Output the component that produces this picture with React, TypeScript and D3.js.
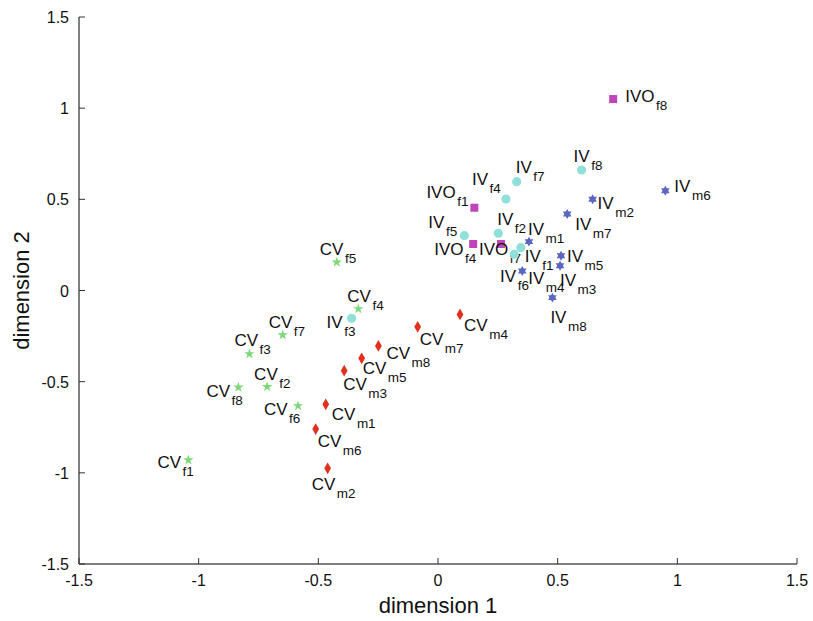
import React from "react";
import * as d3 from "d3";

// ---- data ----
const ivoSubs = ["f1", "f4", "f7", "f8"];
const ivoX = [0.152, 0.147, 0.263, 0.732];
const ivoY = [0.454, 0.255, 0.255, 1.05];
const ivoLabelOff = [[-48, -10], [-39, 11], [-22, 11], [12, 3]];

const ivfSubs = ["f1", "f2", "f3", "f4", "f5", "f6", "f7", "f8"];
const ivfX = [0.346, 0.252, -0.361, 0.284, 0.11, 0.318, 0.329, 0.6];
const ivfY = [0.235, 0.314, -0.152, 0.502, 0.301, 0.199, 0.597, 0.661];
const ivfLabelOff = [[4, 14], [-1, -8], [-25, 10], [-34, -14], [-36, -8], [-14, 28], [-1, -9], [-8, -8]];

const ivmSubs = ["m1", "m2", "m3", "m4", "m5", "m6", "m7", "m8"];
const ivmX = [0.38, 0.646, 0.51, 0.352, 0.514, 0.95, 0.54, 0.478];
const ivmY = [0.268, 0.5, 0.136, 0.107, 0.191, 0.547, 0.42, -0.039];
const ivmLabelOff = [[-1, -7], [5, 10], [0, 20], [6, 13], [6, 6], [9, 1], [8, 16], [-2, 25]];

const cvfSubs = ["f1", "f2", "f3", "f4", "f5", "f6", "f7", "f8"];
const cvfX = [-1.043, -0.714, -0.788, -0.333, -0.423, -0.585, -0.649, -0.834];
const cvfY = [-0.93, -0.528, -0.348, -0.101, 0.155, -0.633, -0.244, -0.531];
const cvfLabelOff = [[-31, 8], [-13, -7], [-15, -8], [-11, -7], [-17, -7], [-34, 9], [-14, -7], [-32, 10]];

const cvmSubs = ["m1", "m2", "m3", "m4", "m5", "m6", "m7", "m8"];
const cvmX = [-0.469, -0.461, -0.392, 0.092, -0.319, -0.511, -0.085, -0.249];
const cvmY = [-0.624, -0.975, -0.44, -0.131, -0.372, -0.76, -0.199, -0.304];
const cvmLabelOff = [[6, 16], [-16, 22], [-1, 19], [4, 17], [1, 16], [2, 18], [2, 18], [8, 13]];

const tickValues = [-1.5, -1, -0.5, 0, 0.5, 1, 1.5];
const tickLabels = ["-1.5", "-1", "-0.5", "0", "0.5", "1", "1.5"];

// ---- layout ----
const W = 813, H = 621;
const x = d3.scaleLinear().domain([-1.5, 1.5]).range([79, 797]);
const y = d3.scaleLinear().domain([-1.5, 1.5]).range([564, 17]);

const FONT = "'Liberation Sans', Arial, Helvetica, sans-serif";

const hexagram = {
  draw(ctx: any, size: number) {
    const R = Math.sqrt(size) * 0.62;
    const r = R / Math.sqrt(3);
    for (let i = 0; i < 12; i++) {
      const a = (Math.PI / 6) * i - Math.PI / 2;
      const rad = i % 2 === 0 ? R : r;
      const px = rad * Math.cos(a), py = rad * Math.sin(a);
      if (i === 0) ctx.moveTo(px, py); else ctx.lineTo(px, py);
    }
    ctx.closePath();
  },
};

const groups = [
  { prefix: "IVO", subs: ivoSubs, xs: ivoX, ys: ivoY, off: ivoLabelOff, type: d3.symbolSquare, size: 64, color: "#bf45b8" },
  { prefix: "IV", subs: ivfSubs, xs: ivfX, ys: ivfY, off: ivfLabelOff, type: d3.symbolCircle, size: 66, color: "#8fe0d9" },
  { prefix: "IV", subs: ivmSubs, xs: ivmX, ys: ivmY, off: ivmLabelOff, type: hexagram, size: 64, color: "#5a66c2" },
  { prefix: "CV", subs: cvfSubs, xs: cvfX, ys: cvfY, off: cvfLabelOff, type: d3.symbolStar, size: 34, color: "#7dd87a" },
  { prefix: "CV", subs: cvmSubs, xs: cvmX, ys: cvmY, off: cvmLabelOff, type: d3.symbolDiamond, size: 40, color: "#e2301f" },
];

export default function App() {
  return (
    <svg width={W} height={H} style={{ position: "absolute", left: 0, top: 0, background: "#fff" }} fontFamily={FONT}>
      <rect width={W} height={H} fill="#fff" />
      {/* axes */}
      <line x1={x(-1.5)} x2={x(-1.5)} y1={y(1.5)} y2={y(-1.5)} stroke="#000" strokeWidth={1} />
      <line x1={x(-1.5)} x2={x(1.5)} y1={y(-1.5)} y2={y(-1.5)} stroke="#000" strokeWidth={1} />
      {tickValues.map((t, i) => (
        <g key={"xt" + i}>
          <line x1={x(t)} x2={x(t)} y1={y(-1.5)} y2={y(-1.5) - 6} stroke="#333" />
          <text x={x(t)} y={586} fontSize={16} textAnchor="middle" fill="#111">{tickLabels[i]}</text>
        </g>
      ))}
      {tickValues.map((t, i) => (
        <g key={"yt" + i}>
          <line x1={x(-1.5)} x2={x(-1.5) + 6} y1={y(t)} y2={y(t)} stroke="#333" />
          <text x={69} y={y(t) + 6} fontSize={16} textAnchor="end" fill="#111">{tickLabels[i]}</text>
        </g>
      ))}
      <text x={x(0)} y={613} fontSize={22} textAnchor="middle" fill="#111">dimension 1</text>
      <text transform={`translate(29,${y(0)}) rotate(-90)`} fontSize={22} textAnchor="middle" fill="#111">dimension 2</text>
      {/* points */}
      {groups.map((g, gi) =>
        g.subs.map((s, i) => {
          const px = x(g.xs[i]), py = y(g.ys[i]);
          const path = d3.symbol().type(g.type as any).size(g.size)();
          return (
            <g key={gi + "-" + i}>
              <path d={path || ""} transform={`translate(${px},${py})`} fill={g.color} />
              <text x={px + g.off[i][0]} y={py + g.off[i][1]} fontSize={17} fill="#111">
                {g.prefix}
                <tspan dx={1.5} dy={8} fontSize={13.5}>{s}</tspan>
              </text>
            </g>
          );
        })
      )}
    </svg>
  );
}
